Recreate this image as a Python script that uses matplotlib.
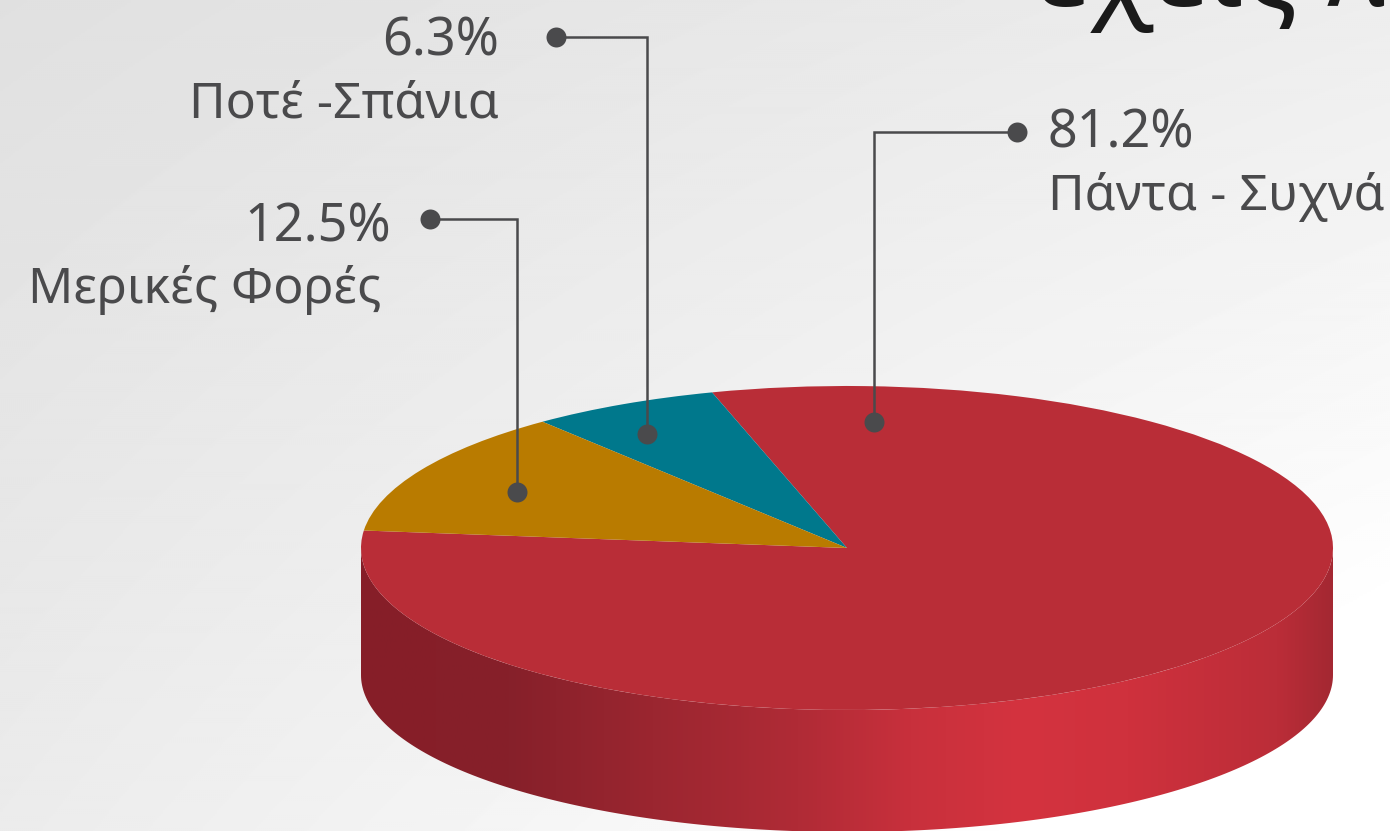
import numpy as np
import matplotlib
matplotlib.use("Agg")
import matplotlib.pyplot as plt
from matplotlib.colors import LinearSegmentedColormap
from matplotlib.patches import Polygon

W, H = 1390, 831
categories = ["Πάντα - Συχνά", "Ποτέ -Σπάνια", "Μερικές Φορές"]
values = [81.2, 6.3, 12.5]
value_labels = ["81.2%", "6.3%", "12.5%"]
colors = ["#b92d37", "#00788c", "#b97b00"]
title_text = "έχεις λ"

plt.rcParams["font.family"] = ["Noto Sans", "DejaVu Sans"]
fig = plt.figure(figsize=(W / 100, H / 100), dpi=100)

# page coordinates in pixels
bg = fig.add_axes([0, 0, 1, 1], zorder=0)
bg.set_xlim(0, W); bg.set_ylim(H, 0); bg.axis("off")
yy, xx = np.mgrid[0:H:2, 0:W:2]
shade = 0.878 + 0.052 * xx / W + 0.045 * yy / H + 0.05 * (xx / W) * (yy / H)
bg.imshow(shade, cmap="gray", vmin=0, vmax=1, extent=(0, W, H, 0), aspect="auto", zorder=0)

# cylinder side
cx, cy, rx, ry = 847, 548, 486, 162
bottom_cy, bottom_ry = 675, 157
th = np.linspace(0, np.pi, 200)
ex = cx + rx * np.cos(th)
outline = np.r_[np.c_[ex, bottom_cy + bottom_ry * np.sin(th)], np.c_[ex[::-1], cy + ry * np.sin(th)[::-1]]]
side = LinearSegmentedColormap.from_list("side", [
    (0.00, "#861e28"), (0.15, "#86202a"), (0.30, "#9b2630"), (0.45, "#b02b36"),
    (0.565, "#c8303c"), (0.68, "#d4333f"), (0.79, "#cf313d"), (0.945, "#bb2d38"), (1.00, "#a42832")])
im = bg.imshow(np.linspace(0, 1, 512)[None, :], cmap=side, vmin=0, vmax=1,
               extent=(cx - rx, cx + rx, H, cy - ry), aspect="auto", zorder=1)
clip = Polygon(outline, closed=True, transform=bg.transData, fc="none", ec="none")
bg.add_patch(clip)
im.set_clip_path(clip)
bg.set_xlim(0, W); bg.set_ylim(H, 0)

# top face: a real pie, squashed by a non-equal axes box
pie = fig.add_axes([(cx - rx) / W, 1 - (cy + ry) / H, 2 * rx / W, 2 * ry / H], zorder=1)
pie.patch.set_alpha(0)
pie.pie(values, colors=colors, startangle=173.8, radius=1.0, wedgeprops={"linewidth": 0})
pie.set_aspect("auto")
pie.set_xlim(-1, 1); pie.set_ylim(-1, 1)

# leaders and labels on top
ov = fig.add_axes([0, 0, 1, 1], zorder=2)
ov.set_xlim(0, W); ov.set_ylim(H, 0); ov.axis("off"); ov.patch.set_alpha(0)
ink = "#4a4a4c"
leaders = [
    [(1017, 132), (874, 132), (874, 422)],
    [(556, 37), (647, 37), (647, 434)],
    [(430, 219), (517, 219), (517, 492)],
]
for pts in leaders:
    p = np.array(pts)
    ov.plot(p[:, 0], p[:, 1], color=ink, lw=1.8, solid_joinstyle="miter", zorder=3)
    ov.scatter(p[[0, -1], 0], p[[0, -1], 1], s=207, color=ink, linewidths=0, zorder=4)

fs_value, fs_cat = 37.5, 36
ov.text(1048, 147, value_labels[0], fontsize=fs_value, color=ink, ha="left", va="baseline")
ov.text(1048, 210, categories[0], fontsize=fs_cat, color=ink, ha="left", va="baseline")
ov.text(499, 55, value_labels[1], fontsize=fs_value, color=ink, ha="right", va="baseline")
ov.text(499, 117, categories[1], fontsize=fs_cat, color=ink, ha="right", va="baseline")
ov.text(391, 241, value_labels[2], fontsize=fs_value, color=ink, ha="right", va="baseline")
ov.text(381, 303, categories[2], fontsize=fs_cat, color=ink, ha="right", va="baseline")
ov.text(1036, 6, title_text, fontsize=80, color="#1a1a1a", ha="left", va="baseline")

fig.savefig("out.png", dpi=100)
